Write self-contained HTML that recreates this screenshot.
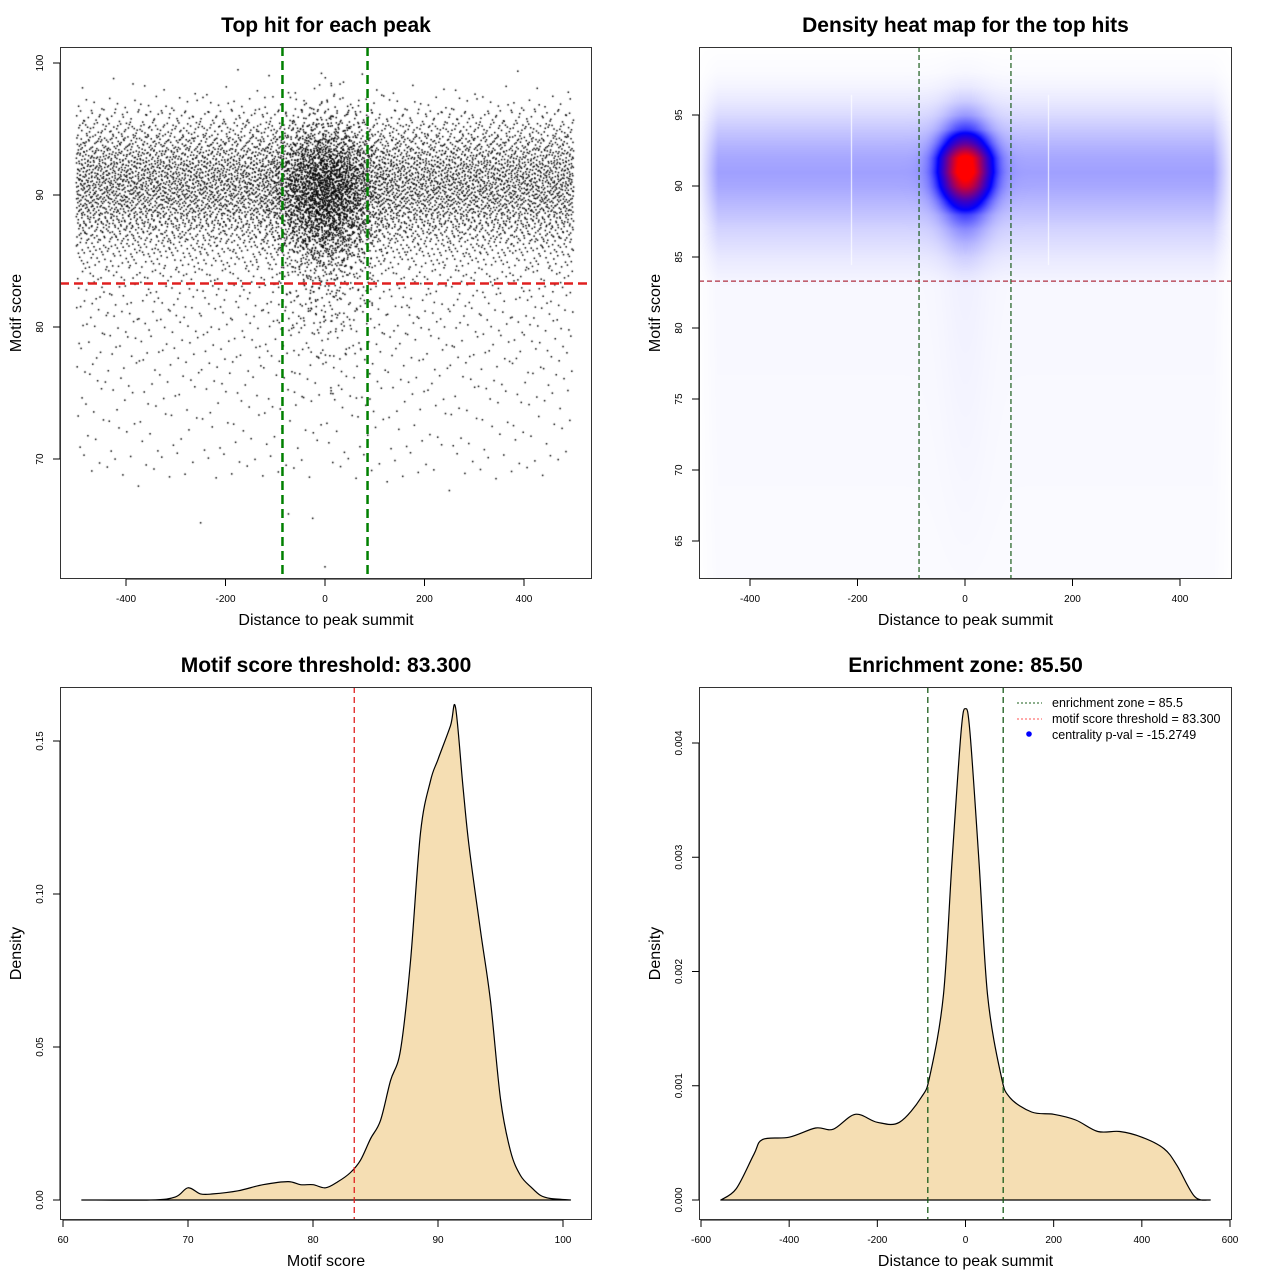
<!DOCTYPE html>
<html><head><meta charset="utf-8">
<style>
html,body{margin:0;padding:0;background:#fff;}
#wrap{position:relative;width:1280px;height:1280px;overflow:hidden;font-family:"Liberation Sans",Arial,sans-serif;}
canvas{position:absolute;}
svg{position:absolute;left:0;top:0;}
text{font-family:"Liberation Sans",Arial,sans-serif;}
</style></head>
<body>
<div id="wrap">
<canvas id="c1" width="532" height="532" style="left:60px;top:47px"></canvas>
<canvas id="c2" width="533" height="532" style="left:699px;top:47px"></canvas>
<svg id="s" width="1280" height="1280"></svg>
</div>
<script>
// ---------- data ----------
const bgScores   = [62,65,68,69,70,71,72,73,74,75,76,77,78,79,80,81,82,83,84,85,86,87,88,89,90,91,92,93,94,95,96,97,98,99];
const bgCounts   = [1,1,3,25,30,25,25,30,30,35,40,45,50,55,60,70,75,90,130,190,290,420,580,740,860,900,830,660,490,320,180,65,20,5];
const cenScores  = [66,75,78,80,81,82,83,84,85,86,87,88,89,90,91,92,93,94,95,96,97,98,99];
const cenCounts  = [2,8,15,22,22,25,32,45,70,110,160,200,240,260,255,215,155,100,55,25,12,6,3];
const hmScores   = [60,83,84,85,86,87,88,89,90,91,92,93,94,95,96,97,98,100];
const hmCentral  = [0,0.01,0.02,0.035,0.06,0.1,0.18,0.42,0.78,1.0,0.95,0.5,0.2,0.09,0.04,0.015,0.005,0];
const hmBand     = [0.006,0.01,0.02,0.03,0.045,0.06,0.08,0.1,0.12,0.13,0.12,0.1,0.075,0.05,0.03,0.015,0.006,0];
const scoreX     = [61.5,67,69,70,71,72,74,76,78,79,80,81,82,83,83.8,84.6,85.4,86.2,87,87.8,88.6,89.4,90,91,91.4,92,92.5,93.4,94.2,95,95.8,96.6,97.5,98.2,99,100.6];
const scoreD     = [0,0,0.001,0.004,0.002,0.002,0.003,0.005,0.006,0.005,0.005,0.004,0.006,0.009,0.013,0.02,0.026,0.039,0.049,0.078,0.12,0.137,0.144,0.155,0.161,0.135,0.115,0.088,0.065,0.033,0.016,0.008,0.004,0.0015,0.0005,0];
const distX      = [-555,-520,-480,-460,-400,-340,-300,-250,-200,-150,-100,-80,-50,-30,-10,0,10,30,50,80,100,150,200,250,300,350,400,450,480,520,555];
const distD      = [0,0.0001,0.0004,0.00053,0.00055,0.00063,0.00062,0.00075,0.00068,0.00068,0.0009,0.0011,0.0018,0.003,0.0041,0.0043,0.0041,0.003,0.0018,0.0011,0.0009,0.00077,0.00075,0.0007,0.0006,0.0006,0.00055,0.00045,0.0003,0.00003,0];
const zone = 85.5, threshold = 83.3;
const p1xTicks=[-400,-200,0,200,400], p1yTicks=[70,80,90,100];
const p2xTicks=[-400,-200,0,200,400], p2yTicks=[65,70,75,80,85,90,95];
const p3xTicks=[60,70,80,90,100], p3yTicks=[0,0.05,0.10,0.15], p3yLab=["0.00","0.05","0.10","0.15"];
const p4xTicks=[-600,-400,-200,0,200,400,600], p4yTicks=[0,0.001,0.002,0.003,0.004], p4yLab=["0.000","0.001","0.002","0.003","0.004"];

const NS="http://www.w3.org/2000/svg";
const svg=document.getElementById('s');
function el(tag,attrs,parent,txt){const e=document.createElementNS(NS,tag);for(const k in attrs)e.setAttribute(k,attrs[k]);if(txt!==undefined)e.textContent=txt;(parent||svg).appendChild(e);return e;}
function lin(d0,d1,r0,r1){return v=>r0+(v-d0)*(r1-r0)/(d1-d0);}
function interp(xs,ys,v){if(v<=xs[0])return ys[0];for(let i=1;i<xs.length;i++){if(v<=xs[i]){const t=(v-xs[i-1])/(xs[i]-xs[i-1]);return ys[i-1]+t*(ys[i]-ys[i-1]);}}return ys[ys.length-1];}
function halton(i,b){let f=1,r=0;while(i>0){f/=b;r+=f*(i%b);i=Math.floor(i/b);}return r;}
function smoothPath(pts){let d='M'+pts[0][0].toFixed(1)+','+pts[0][1].toFixed(1);
  for(let i=0;i<pts.length-1;i++){const p0=pts[Math.max(0,i-1)],p1=pts[i],p2=pts[i+1],p3=pts[Math.min(pts.length-1,i+2)];
    const c1=[p1[0]+(p2[0]-p0[0])/6,p1[1]+(p2[1]-p0[1])/6],c2=[p2[0]-(p3[0]-p1[0])/6,p2[1]-(p3[1]-p1[1])/6];
    d+=` C${c1[0].toFixed(1)},${c1[1].toFixed(1)} ${c2[0].toFixed(1)},${c2[1].toFixed(1)} ${p2[0].toFixed(1)},${p2[1].toFixed(1)}`;}
  return d;}

const P=[{x0:60,x1:592,y0:47,y1:579},{x0:699,x1:1232,y0:47,y1:579},{x0:60,x1:592,y0:687,y1:1220},{x0:699,x1:1232,y0:687,y1:1220}];
const sx1=lin(0,400,325,524), sy1=lin(90,80,195,327);
const sx2=lin(0,200,965,1072.5), sy2=lin(90,85,186,257);
const sx3=lin(60,100,63,563), sy3=lin(0,0.15,1200,741);
const sx4=lin(-600,600,701,1230), sy4=lin(0,0.004,1200,743);

function frame(i,title,xlab,ylab,xt,xl,sx,yt,yl,sy){
  const p=P[i];const g=el('g',{},svg);
  
  const t=el('text',{x:(p.x0+p.x1)/2,y:p.y0-15,'text-anchor':'middle','font-size':21,'font-weight':'bold'},g,title);
  
  const xa=el('g',{},g);
  xt.forEach((v,k)=>{const x=sx(v);el('line',{x1:x,x2:x,y1:p.y1,y2:p.y1+7,stroke:'#000'},xa);
    const tl=el('text',{x:x,y:p.y1+23,'text-anchor':'middle','font-size':10},xa,xl[k]);
    });
  el('line',{x1:sx(xt[0]),x2:sx(xt[xt.length-1]),y1:p.y1,y2:p.y1,stroke:'#000'},xa);
  const ya=el('g',{},g);
  yt.forEach((v,k)=>{const y=sy(v);el('line',{x1:p.x0,x2:p.x0-7,y1:y,y2:y,stroke:'#000'},ya);
    const tl=el('text',{x:p.x0-17,y:y,'text-anchor':'middle','font-size':10,transform:`rotate(-90 ${p.x0-17} ${y})`},ya,yl[k]);
    });
  el('line',{x1:p.x0,x2:p.x0,y1:sy(yt[0]),y2:sy(yt[yt.length-1]),stroke:'#000'},ya);
  const xtt=el('text',{x:(p.x0+p.x1)/2,y:p.y1+46,'text-anchor':'middle','font-size':16},g,xlab);
  
  const cy=(p.y0+p.y1)/2, cx=p.x0-39;
  const ytt=el('text',{x:cx,y:cy,'text-anchor':'middle','font-size':16,transform:`rotate(-90 ${cx} ${cy})`},g,ylab);
  
  return g;
}
function box(i){const p=P[i];const b=el('rect',{x:p.x0+0.5,y:p.y0+0.5,width:p.x1-p.x0-1,height:p.y1-p.y0-1,fill:'none',stroke:'#333'});
  }
function vline(i,x,col,w,dash,name){const p=P[i];const l=el('line',{x1:x,x2:x,y1:p.y0,y2:p.y1,stroke:col,'stroke-width':w,'stroke-dasharray':dash});
  }
function hline(i,y,col,w,dash,name){const p=P[i];const l=el('line',{x1:p.x0,x2:p.x1,y1:y,y2:y,stroke:col,'stroke-width':w,'stroke-dasharray':dash});
  }

// ---------- panel 1 scatter ----------
(function(){
  const c=document.getElementById('c1').getContext('2d');c.fillStyle='#000';
  let g=1;
  bgScores.forEach((s,k)=>{for(let n=0;n<bgCounts[k];n++,g++){
    const xv=-500+1000*halton(g,2), yv=s-0.5+halton(g,3);
    c.fillRect(sx1(xv)-60-0.75,sy1(yv)-47-0.75,1.5,1.5);}});
  cenScores.forEach((s,k)=>{for(let n=0;n<cenCounts[k];n++,g++){
    const u1=Math.max(1e-4,halton(g,2)),u2=halton(g,5);
    let xv=50*Math.sqrt(-2*Math.log(u1))*Math.cos(2*Math.PI*u2);xv=Math.max(-500,Math.min(500,xv));
    const yv=s-0.5+halton(g,3);
    c.fillRect(sx1(xv)-60-0.75,sy1(yv)-47-0.75,1.5,1.5);}});
})();
frame(0,'Top hit for each peak','Distance to peak summit','Motif score',p1xTicks,p1xTicks.map(String),sx1,p1yTicks,p1yTicks.map(String),sy1);
vline(0,sx1(-zone),'#008000',2.5,'9 5','zone-line-left');
vline(0,sx1(zone),'#008000',2.5,'9 5','zone-line-right');
hline(0,sy1(threshold),'#e02020',2.5,'9 5','threshold-line');
box(0);

// ---------- panel 2 heatmap ----------
(function(){
  const cv=document.getElementById('c2'),c=cv.getContext('2d');const W=cv.width,H=cv.height;
  const img=c.createImageData(W,H);
  const ix=lin(965,1072.5,0,200), iy=lin(186,257,90,85);
  for(let py=0;py<H;py++){const s=iy(py+47);const band=interp(hmScores,hmBand,s),cen=interp(hmScores,hmCentral,s);
    for(let px=0;px<W;px++){const xv=ix(px+699);
      let edge=Math.min(1,Math.max(0,(500-Math.abs(xv))/40));
      let v=band*edge+cen*Math.exp(-xv*xv/(2*30*30));
      let r,gg,b;
      if(v<0.35){const t=v/0.35;r=255*(1-t);gg=255*(1-t);b=255;}
      else{const t=Math.min(1,(v-0.35)/0.65);r=255*t;gg=0;b=255*(1-t);}
      const o=(py*W+px)*4;img.data[o]=r;img.data[o+1]=gg;img.data[o+2]=b;img.data[o+3]=255;}}
  c.putImageData(img,0,0);
  c.fillStyle='rgba(255,255,255,0.9)';c.fillRect(851-699,95-47,1,170);c.fillRect(1048-699,95-47,1,170);
})();
frame(1,'Density heat map for the top hits','Distance to peak summit','Motif score',p2xTicks,p2xTicks.map(String),sx2,p2yTicks,p2yTicks.map(String),sy2);
vline(1,sx2(-zone),'#1a5c1a',1.2,'5 3','zone-line-left');
vline(1,sx2(zone),'#1a5c1a',1.2,'5 3','zone-line-right');
hline(1,sy2(threshold),'#b03040',1.2,'5 3','threshold-line');
box(1);

// ---------- panel 3 density ----------
frame(2,'Motif score threshold: 83.300','Motif score','Density',p3xTicks,p3xTicks.map(String),sx3,p3yTicks,p3yLab,sy3);
(function(){const pts=scoreX.map((x,k)=>[sx3(x),sy3(scoreD[k])]);
  const d=smoothPath(pts)+' Z';
  const p=el('path',{d:d,fill:'#F5DEB3',stroke:'#000','stroke-width':1.2,'stroke-linejoin':'round'});
  })();
vline(2,sx3(threshold),'#e02020',1.3,'6 4','threshold-line');
box(2);

// ---------- panel 4 density ----------
frame(3,'Enrichment zone: 85.50','Distance to peak summit','Density',p4xTicks,p4xTicks.map(String),sx4,p4yTicks,p4yLab,sy4);
(function(){const pts=distX.map((x,k)=>[sx4(x),sy4(distD[k])]);
  const d=smoothPath(pts)+' Z';
  const p=el('path',{d:d,fill:'#F5DEB3',stroke:'#000','stroke-width':1.2,'stroke-linejoin':'round'});
  })();
vline(3,sx4(-zone),'#1a5c1a',1.3,'6 4','zone-line-left');
vline(3,sx4(zone),'#1a5c1a',1.3,'6 4','zone-line-right');
box(3);
(function(){const g=el('g',{});
  el('line',{x1:1017,x2:1042,y1:703,y2:703,stroke:'#1a5c1a','stroke-dasharray':'2 2'},g);
  el('text',{x:1052,y:707,'font-size':12.5},g,'enrichment zone = 85.5');
  el('line',{x1:1017,x2:1042,y1:719,y2:719,stroke:'#ff5050','stroke-dasharray':'2 2'},g);
  el('text',{x:1052,y:723,'font-size':12.5},g,'motif score threshold = 83.300');
  el('circle',{cx:1029,cy:734,r:2.8,fill:'#0000ff'},g);
  el('text',{x:1052,y:739,'font-size':12.5},g,'centrality p-val = -15.2749');})();
</script>
</body></html>
